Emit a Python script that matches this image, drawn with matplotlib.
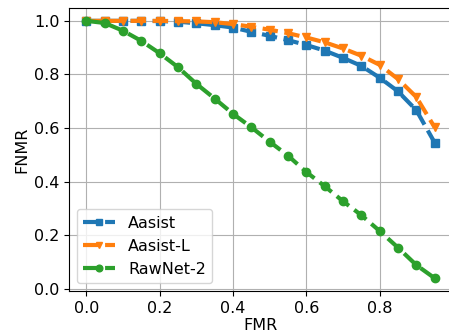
import matplotlib
matplotlib.use("Agg")
import matplotlib.pyplot as plt

fmr = [0.0, 0.05, 0.1, 0.15, 0.2, 0.25, 0.3, 0.35, 0.4, 0.45,
       0.5, 0.55, 0.6, 0.65, 0.7, 0.75, 0.8, 0.85, 0.9, 0.95]

aasist = [1.0, 1.0, 1.0, 1.0, 0.999, 0.997, 0.991, 0.984, 0.975, 0.959,
          0.944, 0.928, 0.910, 0.889, 0.862, 0.832, 0.788, 0.737, 0.667, 0.546]
aasist_l = [1.0, 1.0, 1.0, 1.0, 1.0, 0.999, 0.998, 0.995, 0.988, 0.978,
            0.967, 0.954, 0.938, 0.920, 0.897, 0.870, 0.836, 0.783, 0.716, 0.603]
rawnet2 = [1.0, 0.992, 0.963, 0.925, 0.879, 0.827, 0.765, 0.710, 0.653, 0.603,
           0.549, 0.497, 0.436, 0.383, 0.327, 0.275, 0.216, 0.154, 0.089, 0.040]

plt.rcParams["font.size"] = 11.5

fig = plt.figure(figsize=(4.49, 3.33), dpi=100)
ax = fig.add_axes([69 / 449, 1 - 291 / 333, (452 - 69) / 449, (291 - 8) / 333])

ax.plot(fmr, aasist, "--s", lw=3, ms=6, label="Aasist")
ax.plot(fmr, aasist_l, "--v", lw=3, ms=6, label="Aasist-L")
ax.plot(fmr, rawnet2, "--o", lw=3, ms=6, label="RawNet-2")

ax.set_xlabel("FMR", labelpad=2)
ax.set_ylabel("FNMR", labelpad=3)
ax.grid(True)
ax.legend(loc="lower left", handlelength=2.0, markerscale=0.8)

fig.savefig("out.png", dpi=100)
